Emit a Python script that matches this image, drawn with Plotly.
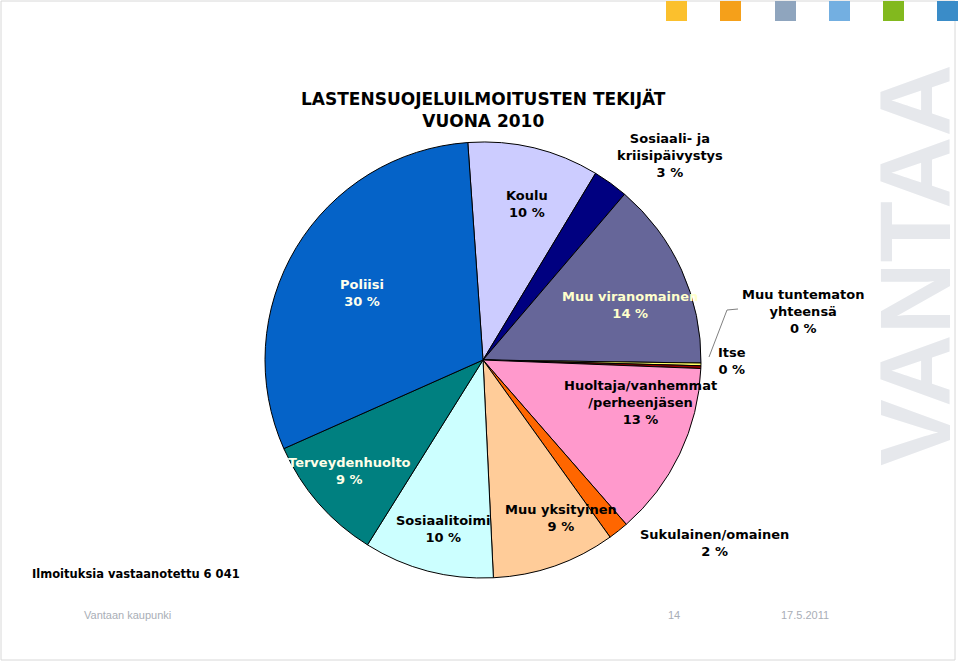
import plotly.graph_objects as go

# ---- data ----
categories = ["Koulu", "Sosiaali- ja kriisipäivystys", "Muu viranomainen",
              "Muu tuntematon yhteensä", "Itse", "Huoltaja/vanhemmat/perheenjäsen",
              "Sukulainen/omainen", "Muu yksityinen", "Sosiaalitoimi",
              "Terveydenhuolto", "Poliisi"]
values = [9.7, 2.6, 13.9, 0.2, 0.2, 12.9, 1.5, 9.1, 9.6, 9.4, 30.4]
pct_labels = ["10 %", "3 %", "14 %", "0 %", "0 %", "13 %", "2 %", "9 %", "10 %", "9 %", "30 %"]
colors = ["#CCCCFF", "#000080", "#666699", "#FFFF66", "#990000", "#FF99CC",
          "#FF6600", "#FFCC99", "#CCFFFF", "#008080", "#0563C8"]

W, H = 960, 664

def px(x):
    return x / W

def py(y):
    return 1 - y / H

fig = go.Figure()

cx, cy, r = 483, 360, 218
fig.add_trace(go.Pie(
    labels=categories, values=values, sort=False, direction="clockwise",
    rotation=-4, textinfo="none", hoverinfo="label+percent",
    marker=dict(colors=colors, line=dict(color="black", width=1)),
    domain=dict(x=[px(cx - r), px(cx + r)], y=[py(cy + r), py(cy - r)]),
    showlegend=False,
))

FONT = "DejaVu Sans"
annotations = []

def label(text, x, y, size=13, color="black", family=FONT):
    annotations.append(dict(text=text, x=px(x), y=py(y), xref="paper", yref="paper",
                            showarrow=False, xanchor="center", yanchor="middle",
                            font=dict(family=family, size=size, color=color)))

# title
label("<b>LASTENSUOJELUILMOITUSTEN TEKIJÄT<br>VUONA 2010</b>", 483, 109, size=17)

# slice labels
label("<b>Koulu<br>" + pct_labels[0] + "</b>", 527, 204)
label("<b>Sosiaali- ja<br>kriisipäivystys<br>" + pct_labels[1] + "</b>", 670, 155)
label("<b>Muu viranomainen<br>" + pct_labels[2] + "</b>", 630, 305, color="#FFFFCC")
label("<b>Muu tuntematon<br>yhteensä<br>" + pct_labels[3] + "</b>", 803, 311)
label("<b>Itse<br>" + pct_labels[4] + "</b>", 732, 361)
label("<b>Huoltaja/vanhemmat<br>/perheenjäsen<br>" + pct_labels[5] + "</b>", 640, 402)
label("<b>Sukulainen/omainen<br>" + pct_labels[6] + "</b>", 714, 543)
label("<b>Muu yksityinen<br>" + pct_labels[7] + "</b>", 561, 518)
label("<b>Sosiaalitoimi<br>" + pct_labels[8] + "</b>", 443, 529)
label("<b>Terveydenhuolto<br>" + pct_labels[9] + "</b>", 349, 471, color="#FFFFE8")
label("<b>Poliisi<br>" + pct_labels[10] + "</b>", 362, 293, color="#FFFFEE")

# bottom note
label("<b>Ilmoituksia vastaanotettu 6 041</b>", 136, 574, size=11.5)

# footer
label("Vantaan kaupunki", 127, 615, size=11, color="#A9AEB6", family="Liberation Sans")
label("14", 674, 615, size=11, color="#A9AEB6", family="Liberation Sans")
label("17.5.2011", 805, 615, size=11, color="#A9AEB6", family="Liberation Sans")

# VANTAA watermark
annotations.append(dict(text="<b>VANTAA</b>", x=px(915), y=py(265), xref="paper", yref="paper",
                        showarrow=False, textangle=-90, xanchor="center", yanchor="middle",
                        font=dict(family="Liberation Sans", size=100, color="#E6E8EC")))

shapes = []
# frame
shapes.append(dict(type="rect", xref="paper", yref="paper", x0=px(1), x1=px(955), y0=py(660), y1=py(1),
                   line=dict(color="#D8D8D8", width=1), layer="below"))
# colour squares
sq_colors = ["#FBC02D", "#F5A01A", "#8FA5BE", "#73AFE1", "#82B91E", "#3A8CC8"]
sq_x = [666, 720, 775, 829, 883, 937]
for c, x0 in zip(sq_colors, sq_x):
    shapes.append(dict(type="rect", xref="paper", yref="paper", x0=px(x0), x1=px(x0 + 21),
                       y0=py(21), y1=py(1), line=dict(width=0), fillcolor=c))
# leader line
shapes.append(dict(type="path", xref="paper", yref="paper",
                   path=f"M {px(738)} {py(309)} L {px(727)} {py(310)} L {px(709)} {py(357)}",
                   line=dict(color="#808080", width=1)))

fig.update_layout(width=W, height=H, margin=dict(l=0, r=0, t=0, b=0),
                  paper_bgcolor="white", plot_bgcolor="white",
                  annotations=annotations, shapes=shapes)

fig.write_html("out.html", config={"displayModeBar": False},
               post_script="document.body.style.margin='0px';")
